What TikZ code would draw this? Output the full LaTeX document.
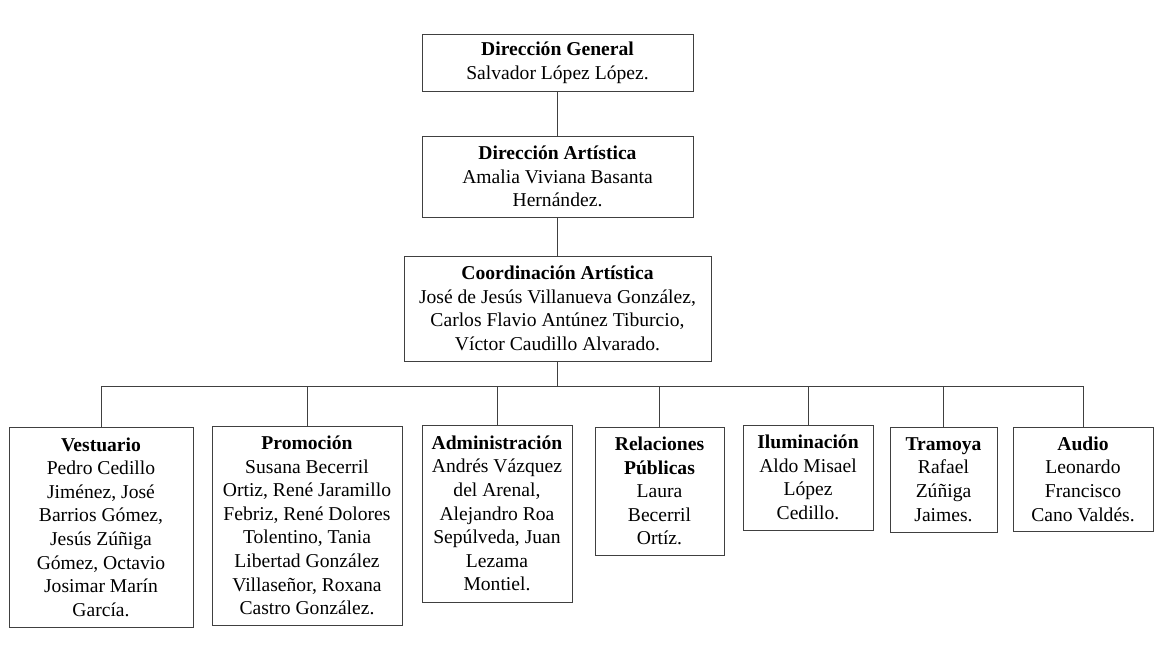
\documentclass[tikz,border=0pt]{standalone}
\usepackage{fontspec}
\setmainfont{Liberation Serif}
\tikzset{
  orgbox/.style={draw=black!75, line width=0.8pt, rectangle, inner sep=0pt, align=center,
    font=\fontsize{19.6}{23.6}\selectfont},
  link/.style={draw=black!75, line width=0.8pt}
}
\begin{document}
\begin{tikzpicture}[x=1pt,y=-1pt]
\useasboundingbox (0,0) rectangle (1156,669);
\node[orgbox, minimum width=271pt, minimum height=57pt] (dg) at (557.5,62.5)
  {\textbf{Dirección General}\\Salvador López López.};
\node[orgbox, minimum width=271pt, minimum height=81pt] (da) at (557.5,176.5)
  {\textbf{Dirección Artística}\\Amalia Viviana Basanta\\Hernández.};
\node[orgbox, minimum width=307pt, minimum height=105pt] (ca) at (557.5,308.5)
  {\textbf{Coordinación Artística}\\José de Jesús Villanueva González,\\Carlos Flavio Antúnez Tiburcio,\\Víctor Caudillo Alvarado.};

\node[orgbox, minimum width=184pt, minimum height=200pt] (ve) at (101,527)
  {\textbf{Vestuario}\\Pedro Cedillo\\Jiménez, José\\Barrios Gómez,\\Jesús Zúñiga\\Gómez, Octavio\\Josimar Marín\\García.};
\node[orgbox, minimum width=190pt, minimum height=199pt] (pr) at (307,525.5)
  {\textbf{Promoción}\\Susana Becerril\\Ortiz, René Jaramillo\\Febriz, René Dolores\\Tolentino, Tania\\Libertad González\\Villaseñor, Roxana\\Castro González.};
\node[orgbox, minimum width=150pt, minimum height=177pt] (ad) at (497,513.5)
  {\textbf{Administración}\\Andrés Vázquez\\del Arenal,\\Alejandro Roa\\Sepúlveda, Juan\\Lezama\\Montiel.};
\node[orgbox, minimum width=129pt, minimum height=128pt] (rp) at (659.5,491)
  {\textbf{Relaciones}\\\textbf{Públicas}\\Laura\\Becerril\\Ortíz.};
\node[orgbox, minimum width=130pt, minimum height=105pt] (il) at (808,477.5)
  {\textbf{Iluminación}\\Aldo Misael\\López\\Cedillo.};
\node[orgbox, minimum width=107pt, minimum height=105pt] (tr) at (943.5,479.5)
  {\textbf{Tramoya}\\Rafael\\Zúñiga\\Jaimes.};
\node[orgbox, minimum width=140pt, minimum height=104pt] (au) at (1083,479)
  {\textbf{Audio}\\Leonardo\\Francisco\\Cano Valdés.};

\coordinate (busL) at (101,386);
\coordinate (busR) at (1083,386);
\draw[link] (dg.south) -- (da.north);
\draw[link] (da.south) -- (ca.north);
\draw[link] (ca.south) -- (ca.south |- busL);
\draw[link] (busL) -- (busR);
\foreach \n in {ve,pr,ad,rp,il,tr,au}{
  \draw[link] (\n.north) -- (\n.north |- busL);
}
\end{tikzpicture}
\end{document}
